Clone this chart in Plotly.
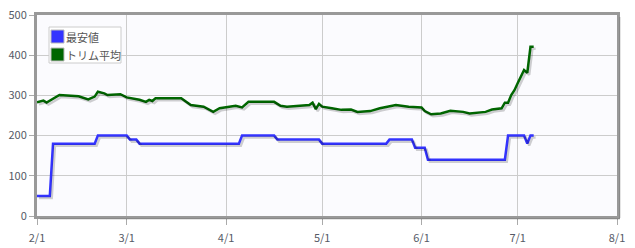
import plotly.graph_objects as go
import datetime as dt

# 最安値 (minimum price)
min_dates = ["2023-02-01", "2023-02-05", "2023-02-06", "2023-02-19", "2023-02-20",
             "2023-03-01", "2023-03-02", "2023-03-04", "2023-03-05", "2023-04-05",
             "2023-04-06", "2023-04-16", "2023-04-17", "2023-04-30", "2023-05-01",
             "2023-05-21", "2023-05-22", "2023-05-29", "2023-05-30", "2023-06-02",
             "2023-06-03", "2023-06-27", "2023-06-28", "2023-07-03", "2023-07-04",
             "2023-07-05", "2023-07-06"]
min_vals = [50, 50, 180, 180, 200,
            200, 190, 190, 180, 180,
            200, 200, 190, 190, 180,
            180, 190, 190, 170, 170,
            140, 140, 200, 200, 180,
            200, 200]

# トリム平均 (trimmed mean)
trim_dates = ["2023-02-01", "2023-02-03", "2023-02-04", "2023-02-08", "2023-02-14",
              "2023-02-17", "2023-02-19", "2023-02-20", "2023-02-22", "2023-02-23",
              "2023-02-27", "2023-03-01", "2023-03-05", "2023-03-07", "2023-03-08",
              "2023-03-09", "2023-03-10", "2023-03-18", "2023-03-21", "2023-03-25",
              "2023-03-28", "2023-03-30", "2023-04-02", "2023-04-04", "2023-04-06",
              "2023-04-08", "2023-04-16", "2023-04-18", "2023-04-20", "2023-04-27",
              "2023-04-28", "2023-04-29", "2023-04-30", "2023-05-01", "2023-05-04",
              "2023-05-07", "2023-05-10", "2023-05-12", "2023-05-16", "2023-05-19",
              "2023-05-24", "2023-05-28", "2023-06-01", "2023-06-02", "2023-06-04",
              "2023-06-07", "2023-06-10", "2023-06-14", "2023-06-16", "2023-06-21",
              "2023-06-23", "2023-06-26", "2023-06-27", "2023-06-28", "2023-06-29",
              "2023-06-30", "2023-07-01", "2023-07-02", "2023-07-03", "2023-07-04",
              "2023-07-05", "2023-07-06"]
trim_vals = [283, 287, 282, 301, 298,
             290, 297, 309, 305, 301,
             303, 295, 289, 284, 289,
             286, 293, 293, 276, 272,
             259, 268, 272, 274, 270,
             284, 284, 274, 272, 276,
             282, 266, 279, 272, 268,
             264, 265, 259, 261, 268,
             276, 272, 270, 261, 253,
             255, 262, 259, 255, 259,
             265, 268, 282, 282, 301,
             313, 330, 345, 363, 356,
             421, 421]

series_names = ["最安値", "トリム平均"]
series_colors = ["#3333ff", "#006600"]

y_ticks = [0, 100, 200, 300, 400, 500]

fig = go.Figure()

# shadows (same data drawn on slightly shifted overlay axes)
for xs, ys in [(min_dates, min_vals), (trim_dates, trim_vals)]:
    fig.add_trace(go.Scatter(x=xs, y=ys, mode="lines", xaxis="x2", yaxis="y2",
                             line=dict(color="rgba(0,0,0,0.18)", width=2.5),
                             showlegend=False, hoverinfo="skip"))

for xs, ys, name, col in [(min_dates, min_vals, series_names[0], series_colors[0]),
                          (trim_dates, trim_vals, series_names[1], series_colors[1])]:
    fig.add_trace(go.Scatter(x=xs, y=ys, mode="lines", name=name,
                             line=dict(color=col, width=2.5), showlegend=False))

x0 = dt.datetime(2023, 2, 1)
x1 = dt.datetime(2023, 8, 1)
shift = dt.timedelta(days=0.6)

font_fam = "Noto Sans CJK JP, Noto Sans, sans-serif"

# legend drawn as box + swatches + text (pixel offsets from plot top-left)
shapes = [
    dict(type="rect", xref="paper", yref="paper", xsizemode="pixel", xanchor=0,
         ysizemode="pixel", yanchor=1, x0=12, x1=84, y0=-12, y1=-48,
         fillcolor="white", line=dict(color="#cccccc", width=1), layer="above"),
    # frame shadow
    dict(type="rect", xref="paper", yref="paper", xsizemode="pixel", xanchor=1,
         x0=2, x1=4, y0=-0.01, y1=0.99, fillcolor="rgba(0,0,0,0.10)", line_width=0),
    dict(type="rect", xref="paper", yref="paper", ysizemode="pixel", yanchor=0,
         y0=-4, y1=-2, x0=0.005, x1=1.005, fillcolor="rgba(0,0,0,0.10)", line_width=0),
]
annotations = []
for i, (name, col) in enumerate(zip(series_names, series_colors)):
    top = -15 - 18 * i
    shapes.append(dict(type="rect", xref="paper", yref="paper", xsizemode="pixel",
                       xanchor=0, ysizemode="pixel", yanchor=1,
                       x0=14, x1=27, y0=top, y1=top - 13, fillcolor=col,
                       line=dict(color="#bbbbbb", width=1), layer="above"))
    annotations.append(dict(xref="paper", yref="paper", x=0, y=1, xshift=27,
                            yshift=top - 6.5, xanchor="left", yanchor="middle",
                            text=name, showarrow=False,
                            font=dict(size=11, color="#555555", family=font_fam)))

fig.update_layout(
    width=635, height=248,
    margin=dict(l=37, r=18, t=15, b=32),
    paper_bgcolor="white",
    plot_bgcolor="#fbfbfe",
    font=dict(family=font_fam, size=11, color="#555a66"),
    showlegend=False,
    xaxis=dict(type="date", range=[x0, x1], dtick="M1", tick0="2023-02-01",
               tickformat="%-m/%-d", showgrid=True, gridcolor="#cccccc", gridwidth=1,
               showline=True, linecolor="#999999", linewidth=3, mirror=True,
               ticks="outside", ticklen=6, tickcolor="#aaaaaa", zeroline=False,
               automargin=False, ticklabelstandoff=4),
    yaxis=dict(range=[0, 500], tickvals=y_ticks, showgrid=True, gridcolor="#cccccc",
               showline=True, linecolor="#999999", linewidth=3, mirror=True,
               ticks="outside", ticklen=5, tickcolor="#aaaaaa", zeroline=False,
               automargin=False),
    xaxis2=dict(type="date", overlaying="x", range=[x0 - shift, x1 - shift],
                visible=False, showgrid=False),
    yaxis2=dict(overlaying="y", range=[5, 505], visible=False, showgrid=False),
    shapes=shapes,
    annotations=annotations,
)

fig.write_html("out.html")
